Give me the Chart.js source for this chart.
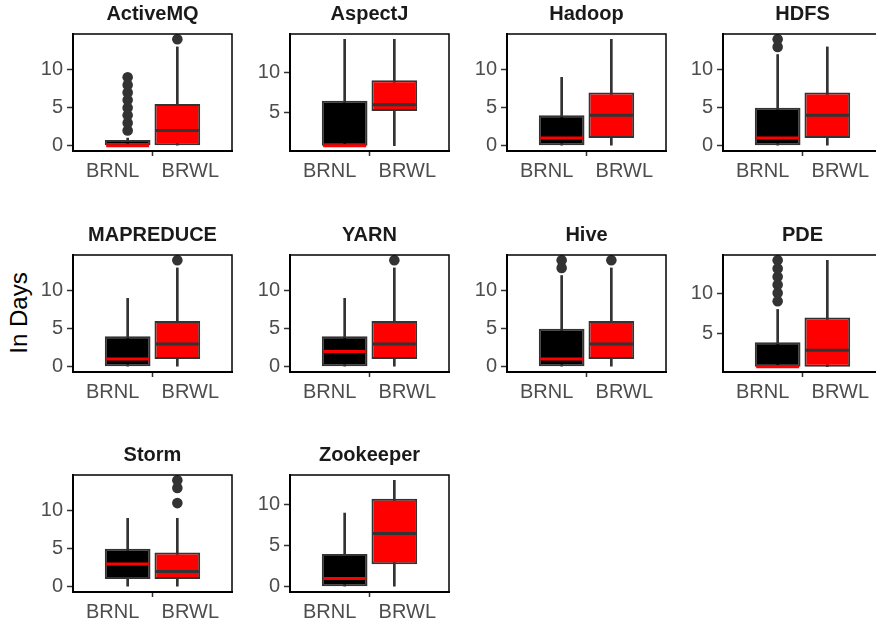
<!DOCTYPE html>
<html>
<head>
<meta charset="utf-8">
<script src="https://cdn.jsdelivr.net/npm/chart.js@4.4.1/dist/chart.umd.min.js"></script>
<style>
  body { margin: 0; width: 876px; height: 626px; overflow: hidden; background: #fff; position: relative; font-family: "Liberation Sans", Arial, sans-serif; }
  canvas { position: absolute; }
  #ylab { position: absolute; left: 19px; top: 313px; transform: translate(-50%, -50%) rotate(-90deg); font-size: 24px; white-space: nowrap; color: #000; }
</style>
</head>
<body>
<div id="ylab">In Days</div>
<script>
const PROJECTS = ['ActiveMQ', 'AspectJ', 'Hadoop', 'HDFS', 'MAPREDUCE', 'YARN', 'Hive', 'PDE', 'Storm', 'Zookeeper'];
const GROUPS = ['BRNL', 'BRWL'];
const Y_TICKS = [0, 5, 10];

// BRNL box stats per project
const brnlLow = [0, 1, 0, 0, 0, 0, 0, 1, 0, 0];
const brnlQ1 = [0, 1, 0, 0, 0, 0, 0, 1, 1, 0];
const brnlMed = [0, 1, 1, 1, 1, 2, 1, 1, 3, 1];
const brnlQ3 = [0.75, 6.5, 4, 5, 4, 4, 5, 4, 5, 4];
const brnlHigh = [1, 14, 9, 12, 9, 9, 12, 8, 9, 9];
const brnlOut = [[2, 3, 4, 5, 6, 7, 8, 9], [], [], [13, 14], [], [], [13, 14], [9, 10, 11, 12, 13, 14], [], []];

// BRWL box stats per project
const brwlLow = [0, 1, 0, 0, 0, 0, 0, 1, 0, 0];
const brwlQ1 = [0, 5.25, 1, 1, 1, 1, 1, 1, 1, 2.75];
const brwlMed = [2, 6, 4, 4, 3, 3, 3, 3, 2, 6.5];
const brwlQ3 = [5.5, 9, 7, 7, 6, 6, 6, 7, 4.5, 10.75];
const brwlHigh = [13, 14, 14, 13, 13, 13, 13, 14, 9, 13];
const brwlOut = [[14], [], [], [], [14], [14], [14], [], [11, 13, 14], []];

// layout
const PLOT_W = 159, PLOT_H = 117;
const AXIS_W = 50, TITLE_H = 34, RIGHT_PAD = 8;
const CANVAS_W = AXIS_W + PLOT_W + RIGHT_PAD, CANVAS_H = 196;
const DODGE = 0.1875;
const FONT_FAMILY = '"Liberation Sans", Arial, sans-serif';
const TICK_FONT = { family: FONT_FAMILY, size: 20 };
const TEXT_GREY = '#4D4D4D';
const LINE_GREY = '#333333';

const panelBorder = {
  id: 'panelBorder',
  afterDatasetsDraw(chart) {
    const { ctx, chartArea: a } = chart;
    ctx.save();
    ctx.strokeStyle = '#000';
    ctx.lineWidth = 1.5;
    ctx.strokeRect(a.left, a.top, a.right - a.left, a.bottom - a.top);
    ctx.restore();
  }
};

function yRange(i) {
  const vals = [brnlLow[i], brnlHigh[i], brwlLow[i], brwlHigh[i], ...brnlOut[i], ...brwlOut[i]];
  const lo = Math.min(...vals), hi = Math.max(...vals);
  const pad = (hi - lo) * 0.05;
  return [lo - pad, hi + pad];
}

function createPanel(i) {
  const col = i % 4, row = Math.floor(i / 4);
  const plotLeft = Math.round(72.7 + col * 216.9);
  const plotTop = Math.round(34 + row * 220.5);
  const canvas = document.createElement('canvas');
  canvas.width = CANVAS_W;
  canvas.height = CANVAS_H;
  canvas.style.left = (plotLeft - AXIS_W) + 'px';
  canvas.style.top = (plotTop - TITLE_H) + 'px';
  document.body.appendChild(canvas);

  const xN = 1 - DODGE, xW = 1 + DODGE;
  const [yMin, yMax] = yRange(i);

  const datasets = [
    {
      type: 'bar', label: 'whisker', grouped: false, order: 4,
      data: [{ x: xN, y: [brnlLow[i], brnlHigh[i]] }, { x: xW, y: [brwlLow[i], brwlHigh[i]] }],
      backgroundColor: LINE_GREY, borderWidth: 0, barThickness: 2
    },
    {
      type: 'bar', label: 'box', grouped: false, order: 3,
      data: [{ x: xN, y: [brnlQ1[i], brnlQ3[i]] }, { x: xW, y: [brwlQ1[i], brwlQ3[i]] }],
      backgroundColor: ['#000000', '#FF0000'], borderColor: LINE_GREY, borderWidth: 2,
      borderSkipped: false, categoryPercentage: 1, barPercentage: 0.92
    },
    {
      type: 'scatter', label: 'median', order: 2,
      data: [{ x: xN, y: brnlMed[i] }, { x: xW, y: brwlMed[i] }],
      pointStyle: 'line', pointRadius: 21.5, pointBorderWidth: 3,
      pointBorderColor: ['#FF0000', LINE_GREY], pointBackgroundColor: 'transparent'
    },
    {
      type: 'scatter', label: 'outlier', order: 1,
      data: brnlOut[i].map(v => ({ x: xN, y: v })).concat(brwlOut[i].map(v => ({ x: xW, y: v }))),
      pointRadius: 5.3, pointBackgroundColor: LINE_GREY, pointBorderWidth: 0
    }
  ];

  return new Chart(canvas, {
    type: 'bar',
    data: { datasets: datasets },
    options: {
      responsive: false,
      animation: false,
      layout: { autoPadding: false, padding: { left: 0, right: RIGHT_PAD, top: 0, bottom: 0 } },
      plugins: {
        legend: { display: false },
        tooltip: { enabled: false },
        title: {
          display: true, text: PROJECTS[i], fullSize: false, color: '#1A1A1A',
          font: { family: FONT_FAMILY, size: 20, weight: 'bold' },
          padding: { top: 2, bottom: 8 }
        }
      },
      scales: {
        x: {
          type: 'linear', min: 0.4, max: 1.6, offset: false,
          afterBuildTicks: s => { s.ticks = [{ value: 1 }]; },
          afterFit: s => { s.height = CANVAS_H - TITLE_H - PLOT_H; s.paddingLeft = 0; s.paddingRight = 0; },
          ticks: { callback: () => GROUPS.join('    '), font: TICK_FONT, color: TEXT_GREY, padding: 3, maxRotation: 0, autoSkip: false },
          grid: { display: true, offset: false, drawOnChartArea: false, drawTicks: true, tickLength: 5, tickColor: LINE_GREY, tickWidth: 1.5 },
          border: { display: true, color: '#000', width: 2 }
        },
        y: {
          min: yMin, max: yMax,
          afterBuildTicks: s => { s.ticks = Y_TICKS.filter(v => v >= yMin && v <= yMax).map(v => ({ value: v })); },
          afterFit: s => { s.width = AXIS_W; s.paddingTop = 0; s.paddingBottom = 0; },
          ticks: { font: TICK_FONT, color: TEXT_GREY, padding: 4 },
          grid: { display: true, drawOnChartArea: false, drawTicks: true, tickLength: 6, tickColor: LINE_GREY, tickWidth: 1.5 },
          border: { display: true, color: '#000', width: 2 }
        }
      }
    },
    plugins: [panelBorder]
  });
}

PROJECTS.forEach((p, i) => createPanel(i));
</script>
</body>
</html>
